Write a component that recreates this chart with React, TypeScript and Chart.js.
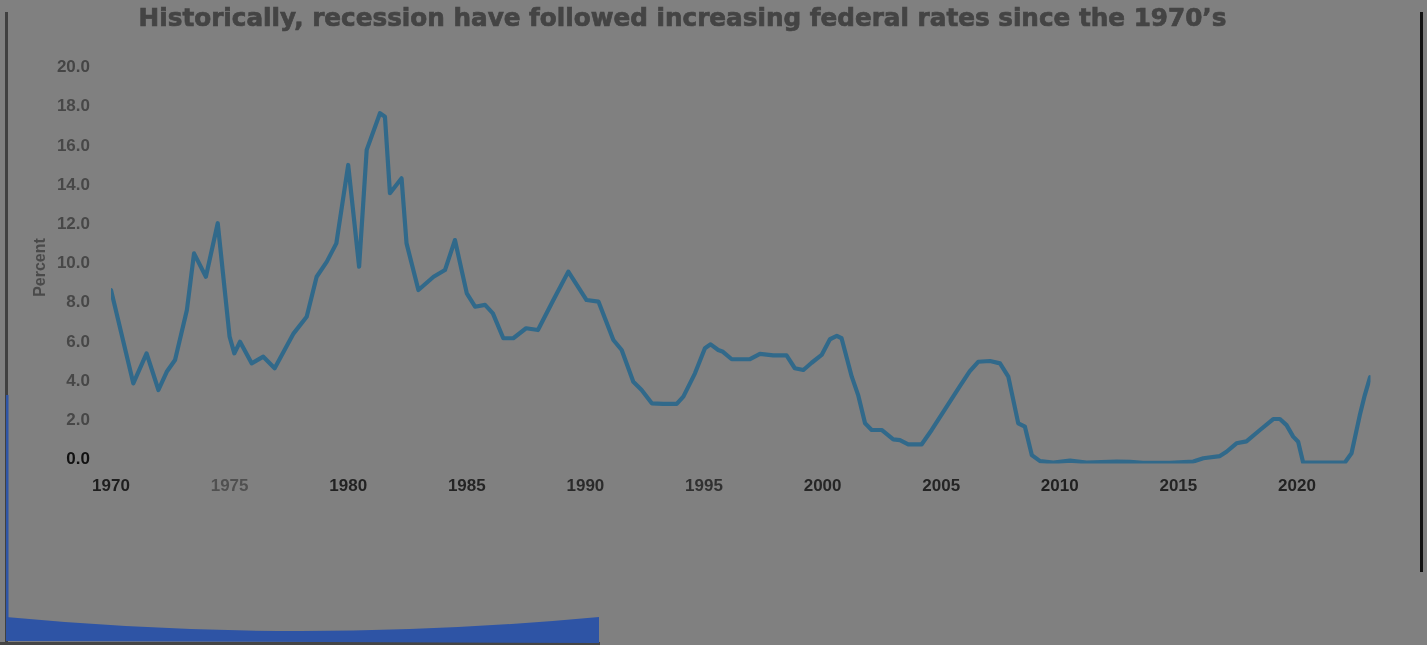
import React, { useEffect, useRef } from "react";
import { Chart, registerables } from "chart.js";

Chart.register(...registerables);

const chartTitle = "Historically, recession have followed increasing federal rates since the 1970\u2019s";
const yAxisTitle = "Percent";

// Effective federal funds rate (percent)
const years = [
  1970.0, 1970.94, 1971.5, 1972.0, 1972.35, 1972.7, 1973.2, 1973.5, 1974.0, 1974.5,
  1975.0, 1975.2, 1975.44, 1975.93, 1976.42, 1976.9, 1977.7, 1978.25, 1978.67, 1979.1,
  1979.5, 1980.0, 1980.46, 1980.78, 1981.34, 1981.55, 1981.76, 1982.25, 1982.46, 1982.96,
  1983.6, 1984.08, 1984.5, 1985.0, 1985.35, 1985.77, 1986.1, 1986.54, 1986.96, 1987.5,
  1988.0, 1988.65, 1989.28, 1990.05, 1990.55, 1991.18, 1991.53, 1992.02, 1992.37, 1992.8,
  1993.28, 1993.85, 1994.13, 1994.62, 1995.04, 1995.28, 1995.6, 1995.8, 1996.17, 1996.94,
  1997.36, 1997.92, 1998.48, 1998.83, 1999.19, 1999.54, 1999.96, 2000.31, 2000.6, 2000.8,
  2001.23, 2001.5, 2001.79, 2002.07, 2002.49, 2002.98, 2003.26, 2003.61, 2004.18, 2004.6,
  2005.09, 2005.79, 2006.2, 2006.56, 2007.06, 2007.48, 2007.83, 2008.25, 2008.53, 2008.82, 2009.17,
  2009.73, 2010.43, 2011.13, 2012.4, 2012.96, 2013.5, 2014.65, 2015.63, 2016.05, 2016.75,
  2017.03, 2017.45, 2017.87, 2018.44, 2019.0, 2019.28, 2019.56, 2019.84, 2020.05, 2020.26,
  2022.02, 2022.3, 2022.65, 2022.86, 2023.08,
];

const rates = [
  8.85, 4.09, 5.62, 3.75, 4.68, 5.28, 7.83, 10.72, 9.53, 12.26,
  6.47, 5.62, 6.21, 5.11, 5.45, 4.86, 6.64, 7.49, 9.53, 10.3,
  11.23, 15.23, 10.04, 16.0, 17.87, 17.69, 13.79, 14.55, 11.23, 8.85,
  9.53, 9.87, 11.4, 8.68, 8.0, 8.09, 7.66, 6.39, 6.39, 6.9,
  6.81, 8.34, 9.79, 8.34, 8.26, 6.3, 5.79, 4.17, 3.75, 3.07,
  3.04, 3.04, 3.41, 4.6, 5.88, 6.08, 5.79, 5.7, 5.32, 5.32,
  5.59, 5.52, 5.52, 4.86, 4.77, 5.14, 5.54, 6.34, 6.51, 6.39,
  4.43, 3.49, 2.05, 1.71, 1.71, 1.23, 1.19, 0.98, 0.98, 1.71,
  2.64, 3.95, 4.7, 5.19, 5.23, 5.11, 4.43, 2.05, 1.88, 0.43, 0.12,
  0.05, 0.15, 0.05, 0.1, 0.08, 0.03, 0.03, 0.1, 0.27, 0.38,
  0.6, 1.03, 1.13, 1.71, 2.27, 2.27, 1.96, 1.37, 1.11, 0.05,
  0.05, 0.52, 2.47, 3.49, 4.4,
];

const xTickYears = [1970, 1975, 1980, 1985, 1990, 1995, 2000, 2005, 2010, 2015, 2020];
const xTickColors = ["#1e1e1e", "#505050", "#222222", "#242424", "#2a2a2a", "#303030", "#262626", "#242424", "#202020", "#242424", "#222222"];
const yTickValues = [0, 2, 4, 6, 8, 10, 12, 14, 16, 18, 20];
const yTickColors = ["#111111", "#474747", "#474747", "#474747", "#474747", "#474747", "#474747", "#474747", "#474747", "#474747", "#454545"];

const tickFont = { family: "'Liberation Sans', Arial, sans-serif", size: 17, weight: "bold" as const };

export default function App() {
  const canvasRef = useRef<HTMLCanvasElement>(null);

  useEffect(() => {
    const canvas = canvasRef.current;
    if (!canvas) return;
    const chart = new Chart(canvas, {
      type: "line",
      data: {
        datasets: [
          {
            data: years.map((x, i) => ({ x, y: rates[i] })),
            borderColor: "#31698a",
            borderWidth: 4.2,
            pointRadius: 0,
            tension: 0,
            borderJoinStyle: "round",
            borderCapStyle: "round",
            fill: false,
          },
        ],
      },
      options: {
        responsive: false,
        animation: false,
        devicePixelRatio: 1,
        layout: { padding: { top: 71.5, left: 28, right: 56.5, bottom: 141.5 } },
        plugins: {
          legend: { display: false },
          tooltip: { enabled: false },
          title: { display: false },
        },
        scales: {
          x: {
            type: "linear",
            min: 1970,
            max: 2023.1,
            grid: { display: false, drawTicks: false },
            border: { display: false },
            afterBuildTicks: (s: any) => {
              s.ticks = xTickYears.map((v) => ({ value: v }));
            },
            afterFit: (s: any) => {
              s.height = 40;
            },
            ticks: {
              autoSkip: false,
              maxRotation: 0,
              padding: 12.5,
              font: tickFont,
              color: (ctx: any) => xTickColors[ctx.index] || "#222222",
              callback: (v: any) => String(v),
            },
          },
          y: {
            min: 0,
            max: 20,
            grid: { display: false, drawTicks: false },
            border: { display: false },
            afterBuildTicks: (s: any) => {
              s.ticks = yTickValues.map((v) => ({ value: v }));
            },
            afterFit: (s: any) => {
              s.width = 83;
            },
            ticks: {
              padding: 21,
              labelOffset: -4,
              font: tickFont,
              color: (ctx: any) => yTickColors[ctx.index] || "#474747",
              callback: (v: any) => Number(v).toFixed(1),
            },
            title: {
              display: true,
              text: yAxisTitle,
              color: "#4a4a4a",
              font: { family: "'Liberation Sans', Arial, sans-serif", size: 16, weight: "bold" },
              padding: { top: 3, bottom: 0 },
            },
          },
        },
      },
    });
    return () => chart.destroy();
  }, []);

  return (
    <div
      style={{
        position: "absolute",
        left: 0,
        top: 0,
        width: 1427,
        height: 645,
        background: "#808080",
        overflow: "hidden",
      }}
    >
      <canvas
        ref={canvasRef}
        width={1427}
        height={645}
        style={{ position: "absolute", left: 0, top: 0, width: 1427, height: 645 }}
      />
      <div
        style={{
          position: "absolute",
          left: 0,
          top: 3,
          width: 1365,
          textAlign: "center",
          fontFamily: "'DejaVu Sans', sans-serif",
          fontWeight: "bold",
          fontSize: 24.7,
          lineHeight: "30px",
          color: "#444444",
          WebkitTextStroke: "0.7px #444444",
          whiteSpace: "nowrap",
        }}
      >
        {chartTitle}
      </div>
      <svg
        width={1427}
        height={645}
        style={{ position: "absolute", left: 0, top: 0, pointerEvents: "none" }}
      >
        <rect x={5} y={12} width={3} height={633} fill="#404040" />
        <rect x={6} y={395} width={2.5} height={225} fill="#2f55a6" />
        <rect x={1420} y={12} width={3} height={560} fill="#111111" />
        <rect x={0} y={642} width={600} height={3} fill="#454545" />
        <path d="M6,617 Q300,645 599,617 L599,643 L6,641 Z" fill="#2e54a5" />
      </svg>
    </div>
  );
}
